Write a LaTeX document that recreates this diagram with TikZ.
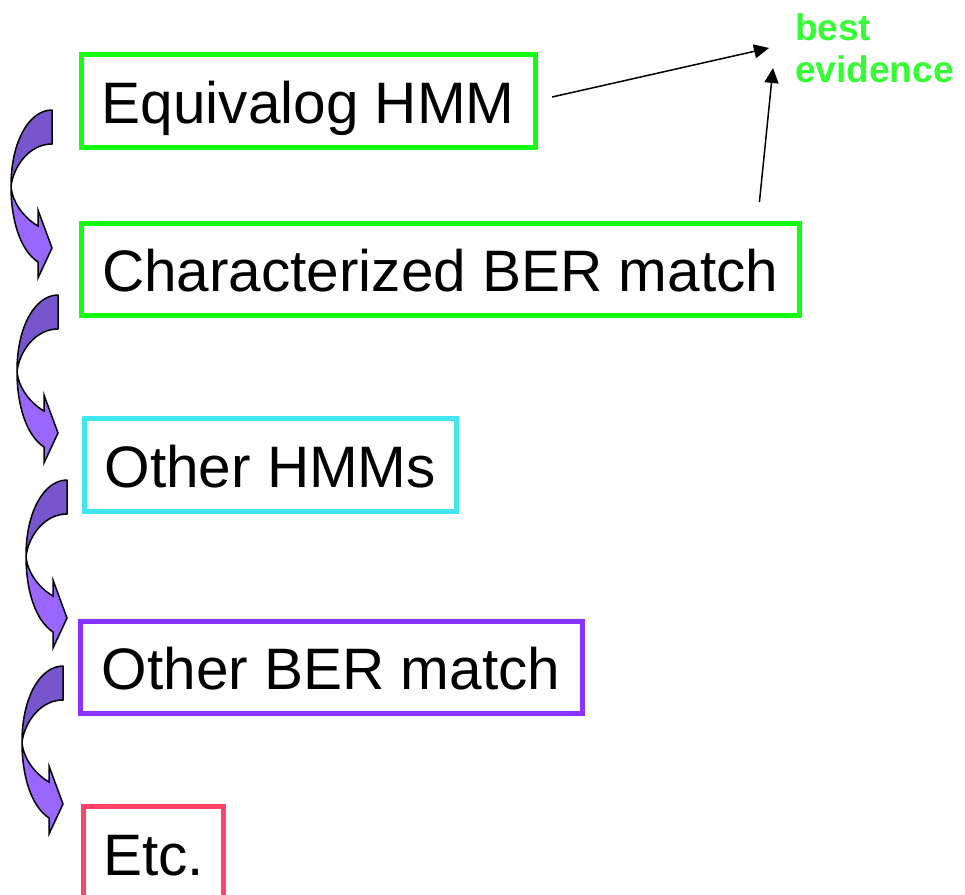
\documentclass[tikz,border=0pt]{standalone}
\usepackage{fontspec}
\setmainfont{Liberation Sans}
\usetikzlibrary{arrows.meta}
\definecolor{boxgreen}{RGB}{20,255,20}
\definecolor{evgreen}{RGB}{51,255,51}
\definecolor{boxcyan}{RGB}{66,230,238}
\definecolor{boxpurple}{RGB}{136,51,255}
\definecolor{boxred}{RGB}{255,68,102}
\definecolor{arrdark}{RGB}{119,85,204}
\definecolor{arrlight}{RGB}{153,102,255}
\tikzset{
  box/.style={draw, rectangle, line width=5pt, outer sep=0pt, inner xsep=12pt, inner ysep=0pt,
    minimum height=92.5pt, text height=45pt, text depth=0pt, anchor=north west,
    font=\fontsize{58.5pt}{70pt}\selectfont},
  curvedark/.style={fill=arrdark, draw=black, line width=1.5pt, line join=round},
  curvelight/.style={fill=arrlight, draw=black, line width=1.5pt, line join=miter},
  evarrow/.style={-{Triangle[length=15pt,width=14pt]}, line width=1.5pt},
  evlabel/.style={font=\bfseries\fontsize{37pt}{42pt}\selectfont, text=evgreen, align=left,
    anchor=base west, inner sep=0pt}
}
\begin{document}
\begin{tikzpicture}[x=1pt,y=-1pt]
\path[use as bounding box, clip] (0,0) rectangle (965,894);

% boxes
\node[box, draw=boxgreen, minimum width=454.5pt] (b1) at (81,54.5) {Equivalog HMM};
\node[box, draw=boxgreen, minimum width=718.5pt] (b2) at (81,223) {Characterized BER match};
\node[box, draw=boxcyan, minimum width=371.5pt] (b3) at (84.5,418.5) {Other HMMs};
\node[box, draw=boxpurple, minimum width=502pt] (b4) at (80,621) {Other BER match};
\node[box, draw=boxred, minimum width=140pt] (b5) at (83.5,806.5) {Etc.};

% label (anchor is the baseline of its last line)
\node[evlabel] (ev) at (795,82) {best\\evidence};

% evidence arrows
\coordinate (t1) at (769,48);
\coordinate (t2) at (773,68);
\coordinate (s2) at (757.5,221);
\draw[evarrow, shorten <=17pt] (b1.east) -- (t1);
\draw[evarrow, shorten <=19pt] (s2) -- (t2);

% curved arrows
\foreach \px/\py in {52/110, 58/295, 67/480, 63/666}{
  \begin{scope}[shift={(\px,\py)}]
    \draw[curvelight] (-41,76) .. controls (-41,110) and (-32,140) .. (-14,152)
      -- (-14,168) -- (0,138) -- (-14,100) -- (-14,116)
      .. controls (-28,108) and (-40,92) .. (-41,76) -- cycle;
    \draw[curvedark] (0,0) .. controls (-22,0) and (-41,30) .. (-41,76)
      .. controls (-38,55) and (-22,34) .. (0,34) -- cycle;
  \end{scope}
}
\end{tikzpicture}
\end{document}
